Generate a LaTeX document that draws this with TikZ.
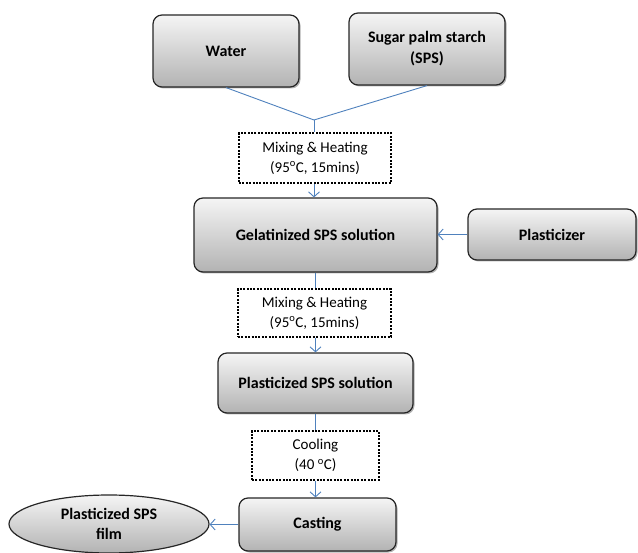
\documentclass[tikz,border=0pt]{standalone}
\usepackage{fontspec}
\setmainfont{Carlito}
\usetikzlibrary{arrows.meta,shadows,shapes.geometric}
\tikzset{
  proc/.style={draw=black!85, line width=1.2pt, rounded corners=9pt, top color=black!4, bottom color=black!30,
    drop shadow={shadow xshift=1.5pt, shadow yshift=-1.5pt, fill=black!60, opacity=0.5},
    font=\fontsize{16}{21}\selectfont\bfseries, align=center, inner sep=0pt},
  cond/.style={draw=black, dash pattern=on 2pt off 1.4pt, line width=2pt, fill=white, font=\fontsize{15}{20}\selectfont, align=center, inner sep=0pt},
  oval/.style={ellipse, draw=black!85, line width=1.2pt, top color=black!4, bottom color=black!30,
    font=\fontsize{16}{20}\selectfont\bfseries, align=center, inner sep=0pt},
  link/.style={line width=0.9pt, color={rgb,255:red,79;green,129;blue,189}},
  arr/.style={link, -{Straight Barb[length=5pt,width=11pt,line width=0.9pt]}}
}
\begin{document}
\begin{tikzpicture}[x=1pt,y=-1pt]
\useasboundingbox (0,0) rectangle (638,553);
\node[proc, minimum width=146pt, minimum height=72pt] (water) at (226,51) {Water};
\node[proc, minimum width=156pt, minimum height=72pt] (sps) at (427,49) {Sugar palm starch\\(SPS)};
\coordinate (J) at (314,120);
\node[cond, minimum width=152pt, minimum height=50pt] (d1) at (315,158) {Mixing \& Heating\\(95\textsuperscript{o}C, 15mins)};
\node[proc, minimum width=243pt, minimum height=74pt] (gel) at (315.5,235) {Gelatinized SPS solution};
\node[proc, minimum width=168pt, minimum height=51pt] (plz) at (552,234.5) {Plasticizer};
\node[cond, minimum width=153pt, minimum height=48pt] (d2) at (314.5,313) {Mixing \& Heating\\(95\textsuperscript{o}C, 15mins)};
\node[proc, minimum width=195pt, minimum height=60pt] (psol) at (315.5,383) {Plasticized SPS solution};
\node[cond, minimum width=127pt, minimum height=49pt] (d3) at (315.5,455.5) {Cooling\\(40 \textsuperscript{o}C)};
\node[proc, minimum width=157pt, minimum height=53pt] (cast) at (317.5,524.5) {Casting};
\node[oval, minimum width=200pt, minimum height=58pt] (film) at (109,524) {Plasticized SPS\\film};
\draw[link] (water.south) -- (J);
\draw[link] (sps.south) -- (J);
\draw[link] (J) -- (J |- d1.north);
\draw[arr] (d1.south -| J) -- (J |- gel.north);
\draw[arr] (plz.west) -- (gel.east |- plz.west);
\draw[link] (gel.south) -- (d2.north -| gel.south);
\draw[arr] (d2.south -| gel.south) -- (psol.north -| gel.south);
\draw[link] (psol.south) -- (d3.north -| psol.south);
\draw[arr] (d3.south -| psol.south) -- (cast.north -| psol.south);
\draw[arr] (cast.west) -- (film.east |- cast.west);
\end{tikzpicture}
\end{document}
